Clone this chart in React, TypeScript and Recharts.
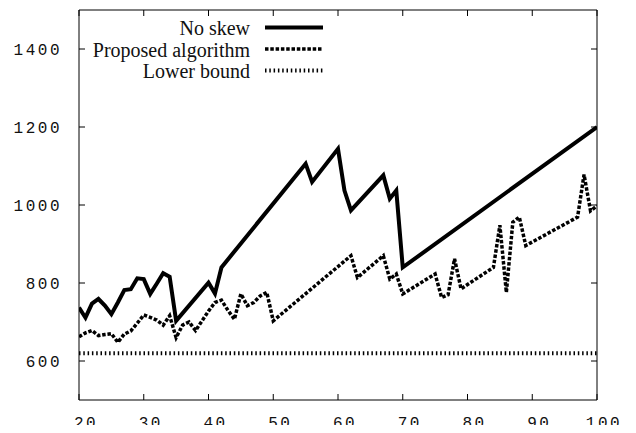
import React from "react";
import { LineChart, Line, XAxis, YAxis, Legend } from "recharts";

const noSkewX = [20, 21, 22, 23, 24, 25, 26, 27, 28, 29, 30, 31, 32, 33, 34, 35, 40, 41, 42, 55, 56, 60, 61, 62, 67, 68, 69, 70, 100];
const noSkewY = [737, 711, 747, 759, 742, 720, 750, 782, 784, 812, 810, 772, 798, 825, 816, 703, 801, 773, 840, 1106, 1059, 1144, 1037, 986, 1076, 1016, 1037, 840, 1200];

const proposedX = [
  20, 21, 22, 23, 24, 25, 26, 27, 28, 29, 30, 31, 32, 33, 34, 35, 36, 37, 38, 39, 40, 41, 42, 43, 44, 45, 46, 47, 48, 49, 50,
  62, 63, 67, 68, 69, 70, 75, 76, 77, 78, 79, 84, 85, 86, 87, 88, 89, 97, 98, 99, 100,
];
const proposedY = [
  662, 672, 678, 665, 668, 670, 648, 669, 677, 697, 718, 712, 705, 692, 716, 660, 692, 700, 678, 703, 728, 750, 756, 730, 707, 772, 742, 750, 767, 776, 703,
  870, 814, 870, 810, 823, 772, 823, 763, 770, 862, 785, 840, 948, 776, 956, 969, 896, 969, 1078, 985, 998,
];

const lowerX = [20, 100];
const lowerY = [620, 620];

const xTicks = [20, 30, 40, 50, 60, 70, 80, 90, 100];
const yTicks = [600, 800, 1000, 1200, 1400];

const seriesNames = ["No skew", "Proposed algorithm", "Lower bound"];

const toPoints = (xs: number[], ys: number[]) => xs.map((x, i) => ({ x, y: ys[i] }));

const noSkew = toPoints(noSkewX, noSkewY);
const proposed = toPoints(proposedX, proposedY);
const lower = toPoints(lowerX, lowerY);

const tickFont = {
  fontFamily: "'Liberation Mono', 'DejaVu Sans Mono', monospace",
  fontSize: 16,
  letterSpacing: 2.5,
  fill: "#111",
};

const BottomTick = ({ x, y, payload }: any) => (
  <text x={x + 7} y={y} textAnchor="middle" {...tickFont}>
    {payload.value}
  </text>
);

const LeftTick = ({ x, y, payload }: any) => (
  <text x={x} y={y} dy="0.36em" textAnchor="end" {...tickFont}>
    {payload.value}
  </text>
);

const NoTick = () => <g />;

const lineStyles = [
  { strokeWidth: 4, dash: undefined },
  { strokeWidth: 3.5, dash: "3.5 1.8" },
  { strokeWidth: 4, dash: "1.5 2.8" },
];

// legend drawn like gnuplot's key: right-aligned labels, sample line to the right
const renderLegend = () => (
  <svg width={340} height={85}>
    {seriesNames.map((name, i) => {
      const base = 27 + i * 21.5;
      return (
        <g key={name}>
          <text
            x={242}
            y={base}
            textAnchor="end"
            fontFamily="'Liberation Serif', 'DejaVu Serif', serif"
            fontSize={20}
            fill="#111"
          >
            {name}
          </text>
          <line
            x1={257}
            x2={315}
            y1={base - 7.5}
            y2={base - 7.5}
            stroke="#000"
            strokeWidth={lineStyles[i].strokeWidth}
            strokeDasharray={lineStyles[i].dash}
          />
        </g>
      );
    })}
  </svg>
);

export default function App() {
  // negative margins cancel the body margin vertically so the labels fit in the window
  return (
    <div style={{ marginTop: -8, marginBottom: -8 }}>
      <LineChart width={620} height={433} margin={{ top: 8, right: 0, bottom: 0, left: 0 }}>
        <XAxis
          xAxisId={0}
          dataKey="x"
          type="number"
          domain={[20, 100]}
          ticks={xTicks}
          allowDataOverflow
          height={33}
          stroke="#000"
          tickSize={-6}
          tickMargin={34}
          tick={<BottomTick />}
        />
        <XAxis
          xAxisId="top"
          orientation="top"
          dataKey="x"
          type="number"
          domain={[20, 100]}
          ticks={xTicks}
          allowDataOverflow
          height={2}
          stroke="#000"
          tickSize={-6}
          tick={<NoTick />}
        />
        <YAxis
          yAxisId={0}
          type="number"
          domain={[500, 1500]}
          ticks={yTicks}
          allowDataOverflow
          width={71}
          stroke="#000"
          tickSize={-6}
          tickMargin={23}
          tick={<LeftTick />}
        />
        <YAxis
          yAxisId="right"
          orientation="right"
          type="number"
          domain={[500, 1500]}
          ticks={yTicks}
          allowDataOverflow
          width={31}
          stroke="#000"
          tickSize={-6}
          tick={<NoTick />}
        />
        <Legend
          layout="vertical"
          align="center"
          verticalAlign="middle"
          wrapperStyle={{ top: 8, left: 0, width: 340 }}
          content={renderLegend}
        />
        <Line
          data={lower}
          dataKey="y"
          name={seriesNames[2]}
          type="linear"
          stroke="#000"
          strokeWidth={lineStyles[2].strokeWidth}
          strokeDasharray={lineStyles[2].dash}
          dot={false}
          isAnimationActive={false}
        />
        <Line
          data={proposed}
          dataKey="y"
          name={seriesNames[1]}
          type="linear"
          stroke="#000"
          strokeWidth={lineStyles[1].strokeWidth}
          strokeDasharray={lineStyles[1].dash}
          dot={false}
          isAnimationActive={false}
        />
        <Line
          data={noSkew}
          dataKey="y"
          name={seriesNames[0]}
          type="linear"
          stroke="#000"
          strokeWidth={lineStyles[0].strokeWidth}
          dot={false}
          isAnimationActive={false}
        />
      </LineChart>
    </div>
  );
}
